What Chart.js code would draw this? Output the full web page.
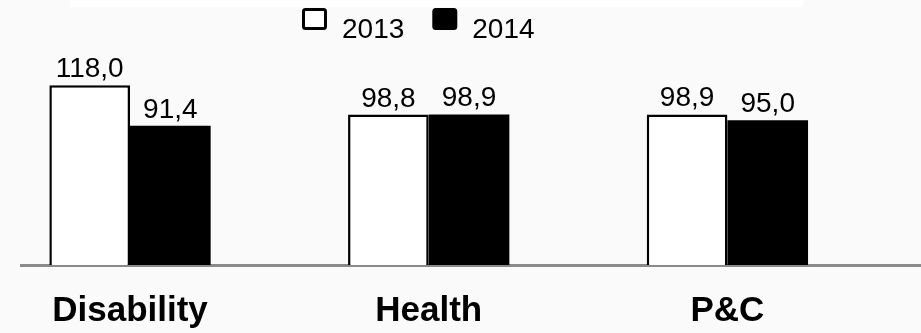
<!DOCTYPE html>
<html>
<head>
<meta charset="utf-8">
<script src="https://cdn.jsdelivr.net/npm/chart.js@4"></script>
<style>
  html, body { margin: 0; padding: 0; background: #fafafa; }
  #wrap { position: relative; width: 921px; height: 333px; }
  #band { position: absolute; left: 70px; top: 0; width: 733px; height: 7px; background: #fff; }
  canvas { position: absolute; left: 0; top: 0; }
</style>
</head>
<body>
<div id="wrap">
  <div id="band"></div>
  <canvas id="myChart" width="921" height="333"></canvas>
</div>
<script>
const categories = ['Disability', 'Health', 'P&C'];
const years = ['2013', '2014'];
const values2013 = [118.0, 98.8, 98.9];
const values2014 = [91.4, 98.9, 95.0];

const FONT = '"Liberation Sans", Arial, Helvetica, sans-serif';

function fmt(v) {
    return v.toFixed(1).replace('.', ',');
}

function toPoints(vals) {
    return vals.map((v, i) => ({ x: i, y: v }));
}

// valores acima das barras
const valueLabels = {
    id: 'valueLabels',
    afterDatasetsDraw(chart) {
        const ctx = chart.ctx;
        ctx.save();
        ctx.font = '28px ' + FONT;
        ctx.fillStyle = '#000';
        ctx.textAlign = 'center';
        ctx.textBaseline = 'alphabetic';
        chart.data.datasets.forEach((ds, d) => {
            chart.getDatasetMeta(d).data.forEach((bar, i) => {
                ctx.fillText(fmt(ds.data[i].y), bar.x, bar.y - 8);
            });
        });
        ctx.restore();
    }
};

// legenda no topo
const topLegend = {
    id: 'topLegend',
    afterDraw(chart) {
        const ctx = chart.ctx;
        ctx.save();
        ctx.font = '28px ' + FONT;
        let x = 302;
        chart.data.datasets.forEach((ds) => {
            ctx.beginPath();
            ctx.roundRect(x + 1.5, 9.5, 22, 19, 2);
            ctx.fillStyle = ds.backgroundColor;
            ctx.fill();
            ctx.lineWidth = 3;
            ctx.strokeStyle = '#000';
            ctx.stroke();
            x += 40;
            ctx.fillStyle = '#000';
            ctx.textBaseline = 'alphabetic';
            ctx.fillText(ds.label, x, 38);
            x += ctx.measureText(ds.label).width + 28;
        });
        ctx.restore();
    }
};

const data = {
    datasets: [{
        label: years[0],
        data: toPoints(values2013),
        backgroundColor: '#ffffff',
        borderColor: '#000000',
        borderWidth: { top: 2.5, left: 2.5, right: 2.5, bottom: 0 },
        categoryPercentage: 0.54,
        barPercentage: 1
    }, {
        label: years[1],
        data: toPoints(values2014),
        backgroundColor: '#000000',
        borderWidth: 0,
        categoryPercentage: 0.54,
        barPercentage: 1
    }]
};

const pxPerCat = 298.7;
const firstCenter = 130;
const areaLeft = 21;

const options = {
    responsive: false,
    animation: false,
    layout: { padding: { left: areaLeft, right: 0, top: 0, bottom: 0 } },
    plugins: {
        legend: { display: false },
        tooltip: { enabled: false }
    },
    scales: {
        x: {
            type: 'linear',
            offset: false,
            bounds: 'data',
            min: (areaLeft - firstCenter) / pxPerCat,
            max: (921 - firstCenter) / pxPerCat,
            grid: { display: false, drawTicks: false, offset: false },
            border: { display: true, color: '#8a8a8a', width: 3 },
            afterBuildTicks(scale) {
                scale.ticks = categories.map((c, i) => ({ value: i }));
            },
            afterFit(scale) {
                scale.height = 68;
            },
            ticks: {
                autoSkip: false,
                maxRotation: 0,
                padding: 25,
                color: '#000',
                font: { family: FONT, size: 35, weight: 'bold' },
                callback: (v) => categories[v]
            }
        },
        y: {
            display: false,
            min: 0,
            max: 174
        }
    }
};

const ctx = document.getElementById('myChart').getContext('2d');
const myChart = new Chart(ctx, {
    type: 'bar',
    data: data,
    options: options,
    plugins: [valueLabels, topLegend]
});
</script>
</body>
</html>
